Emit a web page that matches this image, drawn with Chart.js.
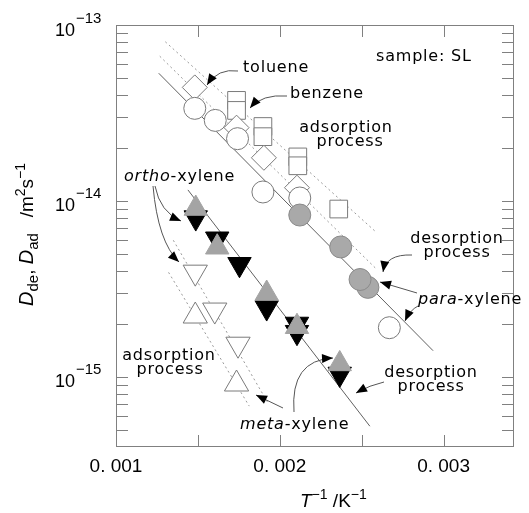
<!DOCTYPE html>
<html><head><meta charset="utf-8">
<script src="https://cdn.jsdelivr.net/npm/chart.js@4"></script>
<style>html,body{margin:0;padding:0;background:#fff}canvas{display:block}</style>
</head><body>
<canvas id="c" width="529" height="513"></canvas>
<script>
// ---- tick labels ----
const xTickValues = [0.001, 0.002, 0.003];
const xTickLabels = ['0. 001', '0. 002', '0. 003'];
const yTickExponents = [-13, -14, -15];

// ---- data (T^-1 in K^-1, D in m^2 s^-1) ----
const tolueneX = [0.001481, 0.001736, 0.001903, 0.002105];
const tolueneY = [4.42e-14, 2.61e-14, 1.76e-14, 1.19e-14];
const benzeneX = [0.001736, 0.001736, 0.001897, 0.001897, 0.00211, 0.00211, 0.00236];
const benzeneY = [3.73e-14, 3.27e-14, 2.65e-14, 2.32e-14, 1.78e-14, 1.585e-14, 9.0e-15];
const paraAdsX = [0.001481, 0.001606, 0.001742, 0.001897, 0.002122, 0.002669];
const paraAdsY = [3.36e-14, 2.87e-14, 2.26e-14, 1.125e-14, 1.04e-14, 1.905e-15];
const paraDesX = [0.002122, 0.002372, 0.002538, 0.00249];
const paraDesY = [8.32e-15, 5.48e-15, 3.23e-15, 3.58e-15];
const metaDesX = [0.001487, 0.001618, 0.00192, 0.002105, 0.002366];
const metaDesY = [9.06e-15, 5.46e-15, 2.98e-15, 1.93e-15, 1.186e-15];
const orthoDesX = [0.001487, 0.001618, 0.001754, 0.00192, 0.002105, 0.002105, 0.002366];
const orthoDesY = [8.05e-15, 6.1e-15, 4.37e-15, 2.48e-15, 2.0e-15, 1.796e-15, 1.04e-15];
const orthoAdsX = [0.001484, 0.001603, 0.001745];
const orthoAdsY = [3.94e-15, 2.40e-15, 1.535e-15];
const metaAdsX = [0.001484, 0.001736];
const metaAdsY = [2.22e-15, 9.12e-16];

// ---- fitted lines (end points) ----
const lineParaDesX = [0.001261, 0.002936], lineParaDesY = [5.32e-14, 1.41e-15];
const lineBenzAdsX = [0.001301, 0.002586], lineBenzAdsY = [8.03e-14, 6.68e-15];
const lineTolAdsX = [0.001267, 0.002586], lineTolAdsY = [6.65e-14, 4.14e-15];
const lineXylDesX = [0.001439, 0.00255], lineXylDesY = [1.156e-14, 5.25e-16];
const lineOrthoAdsX = [0.00135, 0.001932], lineOrthoAdsY = [5.98e-15, 7.01e-16];
const lineMetaAdsX = [0.001321, 0.0018135], lineMetaAdsY = [3.93e-15, 6.83e-16];

const pts = (xs, ys) => xs.map((x, i) => ({x, y: ys[i]}));
const OPEN = '#7a7a7a';
function marks(label, xs, ys, style, order) {
  return Object.assign({label, data: pts(xs, ys), showLine: false, borderWidth: 1, order}, style);
}
function fit(label, xs, ys, dashed) {
  return {label, data: pts(xs, ys), showLine: true, pointRadius: 0, borderWidth: 1,
    borderColor: dashed ? '#9a9a9a' : '#606060', borderDash: dashed ? [2, 3] : [], order: 20};
}

const datasets = [
  marks('meta des', metaDesX, metaDesY, {pointStyle: 'triangle', pointRadius: 13.5, backgroundColor: '#a4a4a4', borderColor: '#a4a4a4'}, 0),
  marks('ortho des', orthoDesX, orthoDesY, {pointStyle: 'triangle', pointRotation: 180, pointRadius: 13.5, backgroundColor: '#000', borderColor: '#000'}, 1),
  marks('ortho ads', orthoAdsX, orthoAdsY, {pointStyle: 'triangle', pointRotation: 180, pointRadius: 14, backgroundColor: '#fff', borderColor: OPEN}, 2),
  marks('meta ads', metaAdsX, metaAdsY, {pointStyle: 'triangle', pointRadius: 14, backgroundColor: '#fff', borderColor: OPEN}, 2),
  marks('para des', paraDesX, paraDesY, {pointStyle: 'circle', pointRadius: 11, backgroundColor: '#a9a9a9', borderColor: '#8a8a8a'}, 3),
  marks('para ads', paraAdsX, paraAdsY, {pointStyle: 'circle', pointRadius: 11, backgroundColor: '#fff', borderColor: OPEN}, 4),
  marks('toluene', tolueneX, tolueneY, {pointStyle: 'rectRot', pointRadius: 12.5, backgroundColor: '#fff', borderColor: OPEN}, 5),
  marks('benzene', benzeneX, benzeneY, {pointStyle: 'rect', pointRadius: 12.5, backgroundColor: '#fff', borderColor: OPEN}, 6),
  fit('para des fit', lineParaDesX, lineParaDesY, false),
  fit('benzene ads fit', lineBenzAdsX, lineBenzAdsY, true),
  fit('toluene ads fit', lineTolAdsX, lineTolAdsY, true),
  fit('xylene des fit', lineXylDesX, lineXylDesY, false),
  fit('ortho ads fit', lineOrthoAdsX, lineOrthoAdsY, true),
  fit('meta ads fit', lineMetaAdsX, lineMetaAdsY, true)
];

const FONT = '"DejaVu Sans", sans-serif';
const LFONT = '"Liberation Sans", Arial, sans-serif';

function drawRuns(ctx, x, y, parts, align) {
  let w = 0;
  parts.forEach(p => { ctx.font = p[1]; w += ctx.measureText(p[0]).width; });
  let cx = align === 'center' ? x - w / 2 : (align === 'right' ? x - w : x);
  parts.forEach(p => { ctx.font = p[1]; ctx.fillText(p[0], cx, y + (p[2] || 0)); cx += ctx.measureText(p[0]).width; });
}

function arrow(ctx, s, c, e) {
  ctx.save();
  ctx.strokeStyle = '#555'; ctx.lineWidth = 1;
  ctx.beginPath(); ctx.moveTo(s[0], s[1]);
  if (c) ctx.quadraticCurveTo(c[0], c[1], e[0], e[1]); else ctx.lineTo(e[0], e[1]);
  ctx.stroke();
  const from = c || s;
  const a = Math.atan2(e[1] - from[1], e[0] - from[0]);
  const L = 11, W = 4.5;
  ctx.fillStyle = '#000';
  ctx.beginPath();
  ctx.moveTo(e[0], e[1]);
  ctx.lineTo(e[0] - L * Math.cos(a) + W * Math.sin(a), e[1] - L * Math.sin(a) - W * Math.cos(a));
  ctx.lineTo(e[0] - L * Math.cos(a) - W * Math.sin(a), e[1] - L * Math.sin(a) + W * Math.cos(a));
  ctx.closePath(); ctx.fill();
  ctx.restore();
}

const framePlugin = {
  id: 'frame',
  beforeDatasetsDraw(chart) {
    const {ctx, chartArea: a, scales: {x, y}} = chart;
    ctx.save();
    ctx.strokeStyle = '#808080'; ctx.lineWidth = 1;
    ctx.strokeRect(a.left + 0.5, a.top + 0.5, a.right - a.left - 1, a.bottom - a.top - 1);
    ctx.beginPath();
    const TL = 12;
    for (let v = 0.001; v < x.max + 1e-9; v += 0.0005) {
      const px = Math.round(x.getPixelForValue(v)) + 0.5;
      if (px <= a.left + 1 || px >= a.right - 1) continue;
      ctx.moveTo(px, a.bottom); ctx.lineTo(px, a.bottom - TL);
      ctx.moveTo(px, a.top); ctx.lineTo(px, a.top + TL);
    }
    for (let e = -16; e <= -13; e++) {
      for (let m = 1; m <= 9; m++) {
        const v = m * Math.pow(10, e);
        if (v < y.min * 0.999 || v > y.max * 1.001) continue;
        const py = Math.round(y.getPixelForValue(v)) + 0.5;
        if (py <= a.top + 1 || py >= a.bottom - 1) continue;
        ctx.moveTo(a.left, py); ctx.lineTo(a.left + TL, py);
        ctx.moveTo(a.right, py); ctx.lineTo(a.right - TL, py);
      }
    }
    ctx.stroke();
    ctx.restore();
  },
  afterDatasetsDraw(chart) {
    const {ctx, chartArea: a, scales: {x, y}} = chart;
    ctx.save();
    ctx.fillStyle = '#000';
    ctx.textBaseline = 'alphabetic';
    // x tick labels
    ctx.textAlign = 'left';
    xTickValues.forEach((v, i) => {
      drawRuns(ctx, x.getPixelForValue(v), 472, [[xTickLabels[i], '19px ' + LFONT]], 'center');
    });
    // y tick labels
    yTickExponents.forEach(ex => {
      const py = y.getPixelForValue(Math.pow(10, ex));
      ctx.font = '18px ' + LFONT;
      ctx.textAlign = 'right';
      ctx.fillText('10', 75, py + 10.5);
      ctx.textAlign = 'left';
      ctx.font = '15px ' + LFONT;
      ctx.fillText('\u2212' + (-ex), 76, py - 2.5);
    });
    // x axis title
    drawRuns(ctx, 300, 507, [['T', 'italic 19px ' + LFONT], ['\u22121', '14px ' + LFONT, -8], [' /K', '19px ' + LFONT], ['\u22121', '14px ' + LFONT, -8]], 'left');
    // y axis title
    ctx.save();
    ctx.translate(33, 306);
    ctx.rotate(-Math.PI / 2);
    drawRuns(ctx, 0, 0, [['D', 'italic 20px ' + LFONT], ['de', '15px ' + LFONT, 5], [', ', '19px ' + LFONT],
      ['D', 'italic 20px ' + LFONT], ['ad', '15px ' + LFONT, 5], ['   /m', '19px ' + LFONT], ['2', '14px ' + LFONT, -8],
      ['s', '19px ' + LFONT], ['\u22121', '14px ' + LFONT, -8]], 'left');
    ctx.restore();

    // annotations
    ctx.textBaseline = 'middle';
    ctx.letterSpacing = '0.8px';
    const F = '16px ' + FONT, FI = 'italic 16px ' + FONT;
    drawRuns(ctx, 376, 57, [['sample: SL', F]], 'left');
    drawRuns(ctx, 243, 68, [['toluene', F]], 'left');
    drawRuns(ctx, 290, 94, [['benzene', F]], 'left');
    drawRuns(ctx, 346, 128, [['adsorption', F]], 'center');
    drawRuns(ctx, 350, 142, [['process', F]], 'center');
    drawRuns(ctx, 457, 239, [['desorption', F]], 'center');
    drawRuns(ctx, 457, 253, [['process', F]], 'center');
    drawRuns(ctx, 124, 177, [['ortho', FI], ['-xylene', F]], 'left');
    drawRuns(ctx, 418, 300, [['para', FI], ['-xylene', F]], 'left');
    drawRuns(ctx, 431, 373, [['desorption', F]], 'center');
    drawRuns(ctx, 431, 387, [['process', F]], 'center');
    drawRuns(ctx, 169, 356, [['adsorption', F]], 'center');
    drawRuns(ctx, 170, 370, [['process', F]], 'center');
    drawRuns(ctx, 240, 425, [['meta', FI], ['-xylene', F]], 'left');
    ctx.letterSpacing = '0px';

    // leader arrows
    arrow(ctx, [238, 71], [218, 68], [207, 85]);
    arrow(ctx, [287, 96], [262, 94], [250, 108]);
    arrow(ctx, [155, 186], [160, 212], [181, 221]);
    arrow(ctx, [153, 186], [158, 242], [179, 262]);
    arrow(ctx, [283, 408], null, [256, 395]);
    arrow(ctx, [294, 412], [290, 360], [333, 358]);
    arrow(ctx, [417, 293], null, [380, 282]);
    arrow(ctx, [418, 306], [410, 310], [405, 321]);
    arrow(ctx, [412, 255], [386, 254], [383, 272]);
    arrow(ctx, [384, 382], [370, 385], [356, 393]);
    ctx.restore();
  }
};

new Chart(document.getElementById('c'), {
  type: 'scatter',
  data: {datasets},
  options: {
    responsive: false,
    animation: false,
    devicePixelRatio: 1,
    events: [],
    layout: {padding: {left: 116, top: 25, right: 4, bottom: 66}},
    plugins: {legend: {display: false}, tooltip: {enabled: false}},
    scales: {
      x: {type: 'linear', min: 0.001, max: 0.00343, ticks: {display: false}, grid: {display: false}, border: {display: false},
        afterFit: s => { s.height = 0; }},
      y: {type: 'logarithmic', min: 4e-16, max: 1e-13, ticks: {display: false}, grid: {display: false}, border: {display: false},
        afterFit: s => { s.width = 0; }}
    }
  },
  plugins: [framePlugin]
});
</script>
</body></html>
